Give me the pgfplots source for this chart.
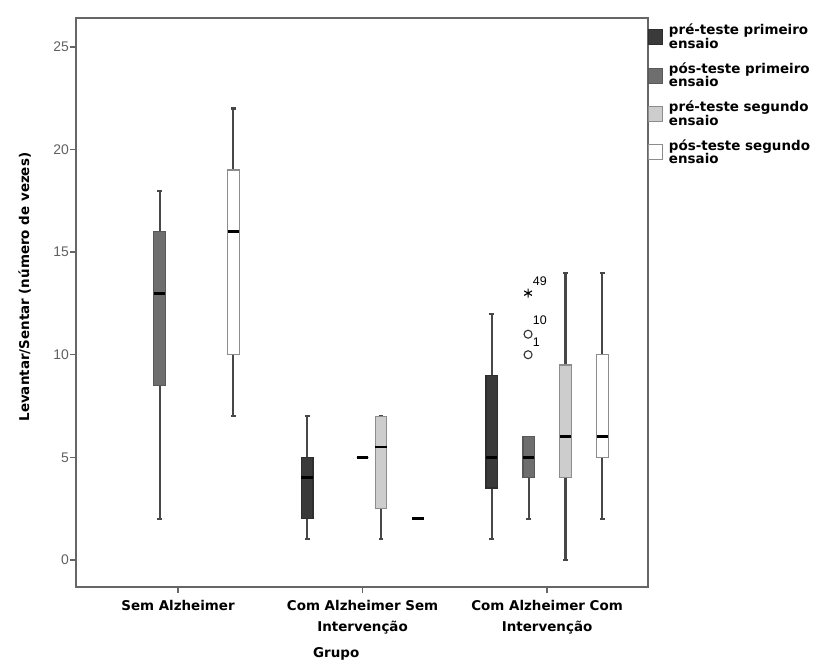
\documentclass[border=0pt]{standalone}
\usepackage{fontspec}
\setmainfont{DejaVu Sans}
\newfontfamily\tickfont{Liberation Sans}
\usepackage{pgfplots}
\pgfplotsset{compat=1.18}
\usepgfplotslibrary{statistics}
\definecolor{cA}{HTML}{3A3A3A}
\definecolor{cB}{HTML}{6E6E6E}
\definecolor{cC}{HTML}{CDCDCD}
\definecolor{cD}{HTML}{FFFFFF}
\definecolor{frame}{HTML}{666666}
\begin{document}
\begin{tikzpicture}
\useasboundingbox (0,0) rectangle (814bp,663bp);
\begin{axis}[
  at={(76bp,76bp)}, anchor=south west,
  scale only axis, width=572bp, height=569bp,
  xmin=-0.553, xmax=2.547, ymin=-1.32, ymax=26.41,
  xtick={0,1,2},
  xticklabels={Sem Alzheimer, Com Alzheimer Sem\\Intervenção, Com Alzheimer Com\\Intervenção},
  ytick={0,5,10,15,20,25},
  tick pos=left, tick align=outside, major tick length=6bp,
  axis line style={frame, line width=1.3bp},
  every tick/.style={frame, line width=1.3bp},
  x tick label style={font=\bfseries\fontsize{13.5}{21}\selectfont, align=center, text=black, yshift=-4bp},
  y tick label style={font=\tickfont\fontsize{14}{14}\selectfont, text=gray!75!black, inner xsep=1bp},
  /pgf/number format/assume math mode=true,
  xlabel={Grupo}, ylabel={Levantar/Sentar (número de vezes)},
  xlabel style={font=\bfseries\fontsize{13.5}{14}\selectfont, at={(axis description cs:0.455,-0.118)}, anchor=center},
  ylabel style={font=\bfseries\fontsize{13.5}{14}\selectfont, at={(axis description cs:-0.09,0.527)}, anchor=center},
  boxplot/draw direction=y,
  boxplot/box extend=0.062, boxplot/whisker extend=0.025,
  boxplot/every median/.style={black, line width=2.8bp},
  boxplot/every whisker/.style={draw=black!72, line width=2.1bp},
  boxplot/every box/.style={line width=1.2bp},
  legend style={at={(1,1)}, anchor=north west, draw=none, fill=none, inner sep=0pt, yshift=-4bp,
    font=\bfseries\fontsize{13.5}{13.3}\selectfont, cells={anchor=west, align=left}, row sep=9bp,
    /tikz/every odd column/.append style={column sep=4bp}},
]
% Sem Alzheimer
\addplot[boxplot prepared={draw position=-0.1, lower whisker=2, lower quartile=8.5, median=13, upper quartile=16, upper whisker=18}, fill=cB, draw=cB!80!black, forget plot] coordinates {};
\addplot[boxplot prepared={draw position=0.3, lower whisker=7, lower quartile=10, median=16, upper quartile=19, upper whisker=22}, fill=cD, draw=black!45, forget plot] coordinates {};
% Com Alzheimer Sem Intervencao
\addplot[boxplot prepared={draw position=0.7, lower whisker=1, lower quartile=2, median=4, upper quartile=5, upper whisker=7}, fill=cA, draw=cA!80!black, forget plot] coordinates {};
\addplot[boxplot prepared={draw position=1.0, lower whisker=5, lower quartile=5, median=5, upper quartile=5, upper whisker=5}, fill=cB, draw=black, forget plot] coordinates {};
\addplot[boxplot prepared={draw position=1.1, lower whisker=1, lower quartile=2.5, median=5.5, upper quartile=7, upper whisker=7}, fill=cC, draw=black!45, forget plot] coordinates {};
\addplot[boxplot prepared={draw position=1.3, lower whisker=2, lower quartile=2, median=2, upper quartile=2, upper whisker=2}, fill=cD, draw=black, forget plot] coordinates {};
% Com Alzheimer Com Intervencao
\addplot[boxplot prepared={draw position=1.7, lower whisker=1, lower quartile=3.5, median=5, upper quartile=9, upper whisker=12}, fill=cA, draw=cA!80!black, forget plot] coordinates {};
\addplot[boxplot prepared={draw position=1.9, lower whisker=2, lower quartile=4, median=5, upper quartile=6, upper whisker=6}, fill=cB, draw=cB!80!black, forget plot] coordinates {};
\addplot[boxplot prepared={draw position=2.1, lower whisker=0, lower quartile=4, median=6, upper quartile=9.5, upper whisker=14}, fill=cC, draw=black!45, forget plot] coordinates {};
\addplot[boxplot prepared={draw position=2.3, lower whisker=2, lower quartile=5, median=6, upper quartile=10, upper whisker=14}, fill=cD, draw=black!45, forget plot] coordinates {};
% outliers
\addplot[only marks, mark=o, mark size=4bp, black!80, mark options={line width=1.1bp}, forget plot] coordinates {(1.897,10) (1.897,11)};
\addplot[only marks, mark=asterisk, mark size=4.5bp, black, mark options={line width=1.1bp}, forget plot] coordinates {(1.897,13)};
\node[anchor=west, font=\tickfont\fontsize{12.5}{12.5}\selectfont, inner sep=0pt] at (axis cs:1.922,10.6) {1};
\node[anchor=west, font=\tickfont\fontsize{12.5}{12.5}\selectfont, inner sep=0pt] at (axis cs:1.922,11.7) {10};
\node[anchor=west, font=\tickfont\fontsize{12.5}{12.5}\selectfont, inner sep=0pt] at (axis cs:1.922,13.6) {49};
% legend
\addlegendimage{legend image code/.code={\draw[fill=cA, draw=cA!80!black, line width=0.8bp] (0bp,-7.5bp) rectangle (14bp,7.5bp);}}
\addlegendentry{pré-teste primeiro\\ensaio}
\addlegendimage{legend image code/.code={\draw[fill=cB, draw=cB!80!black, line width=0.8bp] (0bp,-7.5bp) rectangle (14bp,7.5bp);}}
\addlegendentry{pós-teste primeiro\\ensaio}
\addlegendimage{legend image code/.code={\draw[fill=cC, draw=black!45, line width=0.8bp] (0bp,-7.5bp) rectangle (14bp,7.5bp);}}
\addlegendentry{pré-teste segundo\\ensaio}
\addlegendimage{legend image code/.code={\draw[fill=cD, draw=black!45, line width=0.8bp] (0bp,-7.5bp) rectangle (14bp,7.5bp);}}
\addlegendentry{pós-teste segundo\\ensaio}
\end{axis}
\end{tikzpicture}
\end{document}
